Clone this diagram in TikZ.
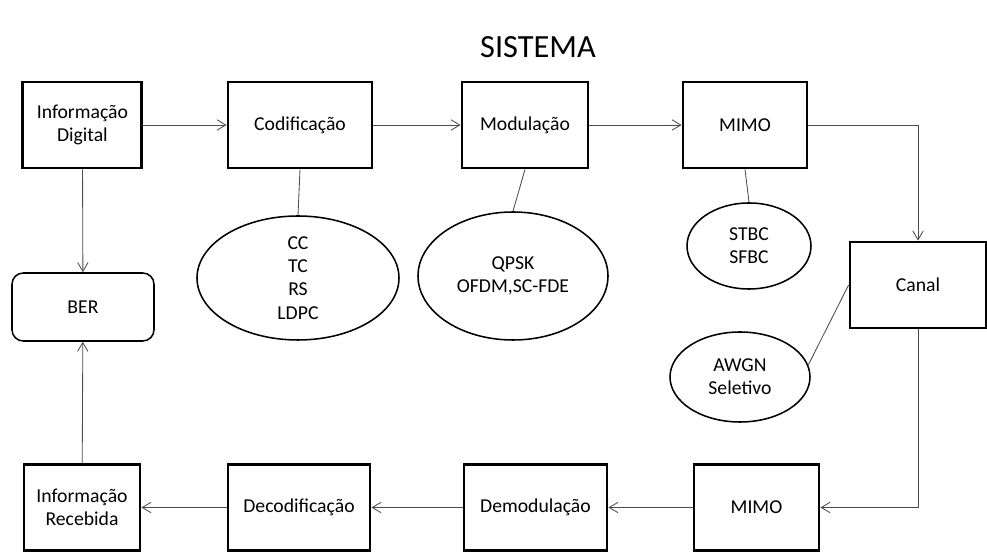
\documentclass[tikz,border=0pt]{standalone}
\usepackage{fontspec}
\setmainfont{Carlito}
\usepackage{tikz}
\usetikzlibrary{positioning, arrows.meta, calc, shapes.geometric}

\begin{document}
\begin{tikzpicture}[
    >={Straight Barb[length=2.2mm, width=2.6mm]},
    box/.style={
        draw, line width=2pt,
        minimum height=2.15cm, minimum width=3.1cm,
        font=\fontsize{14}{16.5}\selectfont, inner sep=3pt,
        text centered, align=center
    },
    opt/.style={
        draw, ellipse, line width=1.1pt,
        font=\fontsize{14}{16.5}\selectfont, inner sep=0pt,
        text centered, align=center
    },
    res/.style={
        draw, line width=1.1pt, rounded corners=8pt,
        minimum height=1.7cm, minimum width=3.55cm,
        font=\fontsize{14}{16.5}\selectfont
    },
    arr/.style={->, line width=0.6pt, draw=black!70},
    lnk/.style={line width=0.6pt, draw=black!70}
]
    \useasboundingbox (0, 0) rectangle (24.675, 13.8);

    \node[font=\fontsize{23}{27}\selectfont] (titulo) at (13.45, 12.625) {SISTEMA};

    % transmissor
    \node[box, minimum width=2.975cm] (info) at (2.06, 10.675) {Informação\\Digital};
    \node[box, minimum width=3.6cm] (cod) at (7.5, 10.675) {Codificação};
    \node[box, minimum width=3.15cm] (mod) at (13.125, 10.675) {Modulação};
    \node[box] (mimotx) at (18.625, 10.675) {MIMO};
    \node[box, minimum width=3.4cm] (canal) at (22.95, 6.675) {Canal};

    % receptor
    \node[box, minimum width=2.9cm] (inforx) at (2.05, 1.1125) {Informação\\Recebida};
    \node[box, minimum width=3.55cm] (decod) at (7.475, 1.1125) {Decodificação};
    \node[box, minimum width=3.575cm] (demod) at (13.3875, 1.1125) {Demodulação};
    \node[box, minimum width=3.125cm] (mimorx) at (18.9125, 1.1125) {MIMO};

    \node[res] (ber) at (2.075, 6.125) {BER};

    % opcoes
    \node[opt, minimum width=5.05cm, minimum height=3.1cm] (codigos) at (7.45, 6.85) {CC\\TC\\RS\\LDPC};
    \node[opt, minimum width=4.75cm, minimum height=3.2cm] (mods) at (12.825, 6.9) {QPSK\\OFDM,SC-FDE};
    \node[opt, minimum width=3.1cm, minimum height=2.15cm] (stbc) at (18.725, 7.65) {STBC\\SFBC};
    \node[opt, minimum width=3.5cm, minimum height=2.25cm] (awgn) at (18.5, 4.375) {AWGN\\Seletivo};

    \draw[arr] (info) -- (cod);
    \draw[arr] (cod) -- (mod);
    \draw[arr] (mod) -- (mimotx);
    \draw[arr] (mimotx.east) -| (canal.north);
    \draw[arr] (canal.south) |- (mimorx.east);
    \draw[arr] (mimorx) -- (demod);
    \draw[arr] (demod) -- (decod);
    \draw[arr] (decod) -- (inforx);
    \draw[arr] (info) -- (ber);
    \draw[arr] (inforx) -- (ber);

    \draw[lnk] (cod.south) -- (codigos.north);
    \draw[lnk] (mod.south) -- (mods.north);
    \draw[lnk] (mimotx.south) -- (stbc.north);
    \draw[lnk] (canal.west) -- (awgn.10);
\end{tikzpicture}
\end{document}
